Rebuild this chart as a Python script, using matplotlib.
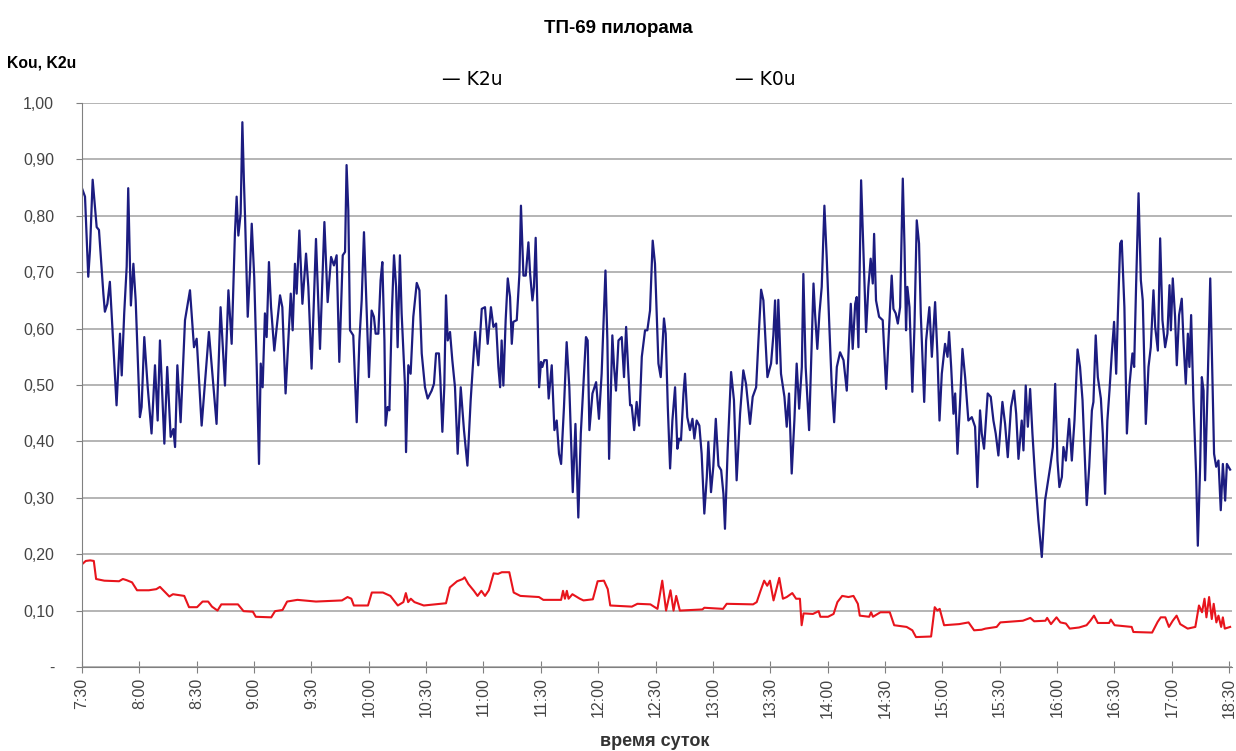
import numpy as np
import matplotlib
matplotlib.use("Agg")
import matplotlib.pyplot as plt

plt.rcParams['font.family'] = ['Liberation Sans', 'DejaVu Sans']

# позиции по оси времени (индекс отсчёта, метка каждые 30 отсчётов)
time_labels = ["7:30", "8:00", "8:30", "9:00", "9:30", "10:00", "10:30", "11:00",
               "11:30", "12:00", "12:30", "13:00", "13:30", "14:00", "14:30",
               "15:00", "15:30", "16:00", "16:30", "17:00", "18:30"]
y_labels = ["-", "0,10", "0,20", "0,30", "0,40", "0,50", "0,60", "0,70", "0,80", "0,90", "1,00"]

# K2u - синяя линия (экстремумы)
k2u_pos = [0, 1.6, 3.3, 4.2, 5.6, 7.7, 8.9, 11.2, 12.0, 13.3, 14.6, 15.9, 18.1, 19.9, 20.8,
           22.1, 23.4, 24.2, 25.6, 26.9, 28.1, 30.3, 31.2, 32.6, 34.4, 36.4, 38.2, 39.6, 40.8,
           43.1, 44.6, 46.4, 47.8, 48.7, 49.9, 51.6, 53.9, 56.5, 58.6, 60.0, 62.6, 66.4, 70.4,
           72.5, 74.8, 76.6, 78.3, 80.0, 80.9, 81.8, 83.0, 83.9, 84.7, 85.3, 86.7, 87.9, 88.8,
           90.1, 91.4, 92.6, 93.5, 94.5, 95.7, 96.6, 97.8, 98.9, 100.6, 103.6, 104.8, 106.5,
           109.2, 110.2, 111.4, 112.3, 113.7, 115.3, 117.2, 118.4, 120.1, 122.4, 124.5, 126.8,
           128.5, 130.3, 131.8, 133.2, 134.6, 136.4, 137.6, 138.4, 139.3, 140.2, 141.9, 143.7,
           145.1, 146.3, 147.5, 150.1, 151.5, 152.7, 153.6, 155.0, 156.2, 157.1, 158.2, 158.8,
           159.9, 160.8, 162.0, 163.2, 164.3, 165.1, 166.3, 167.2, 168.9, 169.5, 170.7, 171.9,
           173.3, 175.1, 176.5, 177.7, 179.4, 180.8, 182.9, 184.1, 185.2, 186.7, 187.4, 188.5,
           189.5, 190.4, 191.3, 192.5, 193.7, 195.1, 196.5, 198.1, 199.8, 201.6, 203.3, 205.6,
           207.3, 209.1, 210.8, 212.2, 213.9, 215.2, 216.6, 217.8, 218.7, 219.5, 220.4, 221.6,
           222.7, 223.9, 224.8, 225.6, 227.4, 228.8, 229.6, 230.9, 232.1, 233.5, 234.4, 235.6,
           236.4, 237.3, 238.2, 239.1, 240.1, 240.8, 241.8, 243.1, 244.1, 245.7, 247.1, 248.3,
           249.5, 250.6, 252.1, 253.5, 254.9, 256.7, 258.1, 259.6, 260.9, 263.6, 264.5, 265.4,
           267.0, 268.9, 270.4, 271.8, 273.8, 274.8, 275.7, 277.4, 278.3, 279.3, 280.6, 282.3,
           283.5, 284.6, 285.8, 286.7, 287.5, 288.8, 290.1, 291.4, 292.8, 294.5, 295.7, 297.1,
           298.5, 299.7, 301.5, 302.7, 304.4, 305.3, 306.4, 307.6, 308.8, 310.2, 311.4, 312.3,
           313.3, 314.6, 315.4, 316.6, 318.0, 319.3, 320.3, 321.5, 322.9, 324.1, 325.5, 326.8,
           327.6, 329.0, 330.2, 331.5, 332.9, 334.3, 335.5, 336.3, 337.7, 339.5, 341.0, 342.4,
           344.2, 345.9, 347.3, 349.4, 350.8, 352.6, 353.8, 355.2, 356.4, 357.3, 358.5, 360.4,
           361.6, 362.5, 363.4, 364.2, 365.6, 367.4, 368.6, 369.8, 371.2, 372.6, 373.8, 375.1,
           376.5, 377.3, 378.5, 380.3, 381.3, 382.6, 383.4, 384.6, 385.7, 386.9, 388.3, 389.5,
           390.9, 392.1, 393.4, 394.8, 396.5, 398.3, 400.0, 401.2, 402.1, 403.1, 404.4, 405.2,
           406.1, 407.5, 408.7, 410.1, 411.3, 412.5, 413.6, 414.3, 415.3, 416.9, 418.8, 420.6,
           421.8, 423.5, 424.4, 425.6, 426.7, 427.9, 429.3, 430.2, 431.0, 431.7, 432.8, 434.3,
           435.4, 436.6, 437.8, 438.7, 440.5, 441.5, 443.2, 444.5, 446.2, 447.4, 448.5, 449.7,
           451.4, 452.7, 453.5, 454.6, 455.8, 456.7, 457.9, 459.3, 460.5, 461.9, 463.6, 465.4,
           467.1, 468.3, 469.7, 470.6, 471.8, 473.7, 475.3, 476.7, 477.9, 479.3, 481.4, 482.8,
           484.2, 485.9, 487.5, 488.6, 489.8, 491.5, 492.4, 493.6, 494.7, 495.9, 497.1, 498.5,
           500.2, 502.0, 503.7, 506.4, 507.8, 509.0, 510.2, 511.2, 512.5, 513.3, 514.6, 516.3,
           517.7, 519.1, 520.7, 522.0, 523.3, 524.7, 525.5, 526.8, 528.2, 529.0, 530.2, 531.3,
           532.9, 533.9, 535.1, 536.3, 537.4, 538.6, 539.8, 540.9, 541.8, 543.0, 543.8, 545.2,
           546.5, 547.9, 549.4, 550.3, 551.3, 552.6, 553.8, 554.8, 556.4, 557.8, 559.0, 560.4,
           561.3, 562.7, 563.9, 565.1, 566.5, 567.7, 568.8, 569.5, 570.5, 571.7, 572.6, 573.8,
           575.2, 576.1, 577.3, 578.4, 579.2, 580.1, 581.3, 582.7, 583.6, 584.8, 585.7, 586.6,
           587.4, 588.7, 590.1, 590.9, 592.1, 593.2, 594.4, 595.6, 596.7, 597.9, 598.8, 600.5]
k2u_val = [0.849, 0.834, 0.692, 0.739, 0.864, 0.78, 0.775, 0.662, 0.63, 0.644, 0.683, 0.603, 0.464, 0.591, 0.517,
           0.627, 0.71, 0.849, 0.641, 0.715, 0.65, 0.443, 0.461, 0.585, 0.496, 0.414, 0.535, 0.437, 0.579,
           0.396, 0.532, 0.408, 0.422, 0.39, 0.535, 0.434, 0.615, 0.668, 0.567, 0.582, 0.428, 0.594, 0.431,
           0.638, 0.499, 0.668, 0.573, 0.768, 0.834, 0.765, 0.804, 0.966, 0.863, 0.798, 0.621, 0.703, 0.786,
           0.691, 0.532, 0.36, 0.538, 0.496, 0.627, 0.585, 0.718, 0.638, 0.561, 0.659, 0.638, 0.485,
           0.662, 0.597, 0.715, 0.662, 0.774, 0.644, 0.733, 0.674, 0.529, 0.759, 0.564, 0.789,
           0.647, 0.727, 0.712, 0.73, 0.541, 0.73, 0.736, 0.89, 0.81, 0.597, 0.588, 0.434,
           0.579, 0.65, 0.771, 0.514, 0.632, 0.621, 0.591, 0.591, 0.686, 0.718, 0.579, 0.428,
           0.461, 0.455, 0.621, 0.73, 0.674, 0.567, 0.73, 0.627, 0.502, 0.381, 0.535, 0.52,
           0.621, 0.681, 0.668, 0.556, 0.496, 0.476, 0.49, 0.502, 0.556, 0.556, 0.514, 0.417,
           0.496, 0.659, 0.579, 0.594, 0.544, 0.496, 0.378, 0.496, 0.42, 0.357, 0.473, 0.594,
           0.535, 0.635, 0.638, 0.573, 0.638, 0.603, 0.609, 0.532, 0.496, 0.579, 0.499, 0.615,
           0.689, 0.656, 0.573, 0.612, 0.615, 0.697, 0.818, 0.694, 0.694, 0.753, 0.697, 0.65,
           0.674, 0.761, 0.638, 0.496, 0.541, 0.532, 0.544, 0.544, 0.476, 0.535, 0.42, 0.437,
           0.378, 0.36, 0.461, 0.576, 0.496, 0.31, 0.431, 0.265, 0.414, 0.585, 0.579, 0.42,
           0.485, 0.505, 0.44, 0.52, 0.703, 0.579, 0.369, 0.588, 0.532, 0.49, 0.579, 0.585,
           0.514, 0.603, 0.52, 0.464, 0.464, 0.42, 0.47, 0.428, 0.55, 0.597, 0.597, 0.632,
           0.756, 0.715, 0.538, 0.514, 0.618, 0.591, 0.461, 0.352, 0.437, 0.496, 0.387, 0.405,
           0.402, 0.485, 0.52, 0.443, 0.42, 0.44, 0.405, 0.437, 0.428, 0.378, 0.272, 0.337,
           0.399, 0.31, 0.355, 0.44, 0.357, 0.349, 0.307, 0.245, 0.384, 0.523, 0.473, 0.331,
           0.449, 0.526, 0.502, 0.431, 0.479, 0.496, 0.579, 0.669, 0.65, 0.591, 0.514, 0.538,
           0.588, 0.65, 0.538, 0.651, 0.52, 0.479, 0.426, 0.485, 0.343, 0.437, 0.538, 0.458,
           0.532, 0.697, 0.532, 0.42, 0.532, 0.68, 0.627, 0.564, 0.627, 0.674, 0.818, 0.727,
           0.603, 0.502, 0.434, 0.532, 0.558, 0.544, 0.49, 0.579, 0.644, 0.564, 0.644, 0.656,
           0.567, 0.863, 0.739, 0.594, 0.674, 0.724, 0.68, 0.768, 0.65, 0.621, 0.615, 0.493,
           0.579, 0.694, 0.635, 0.627, 0.609, 0.638, 0.866, 0.745, 0.597, 0.674, 0.638, 0.488,
           0.603, 0.792, 0.751, 0.627, 0.47, 0.579, 0.638, 0.55, 0.647, 0.556, 0.437, 0.52,
           0.573, 0.55, 0.594, 0.532, 0.449, 0.485, 0.378, 0.473, 0.564, 0.514, 0.437, 0.443,
           0.426, 0.319, 0.455, 0.414, 0.387, 0.485, 0.479, 0.437, 0.414, 0.375, 0.47, 0.431,
           0.372, 0.461, 0.49, 0.449, 0.369, 0.437, 0.384, 0.499, 0.426, 0.493, 0.414, 0.337,
           0.26, 0.195, 0.295, 0.355, 0.39, 0.502, 0.366, 0.319, 0.337, 0.39, 0.366, 0.44,
           0.366, 0.437, 0.563, 0.532, 0.473, 0.355, 0.287, 0.355, 0.455, 0.47, 0.588, 0.514,
           0.476, 0.414, 0.307, 0.437, 0.49, 0.556, 0.612, 0.52, 0.627, 0.751, 0.756, 0.638,
           0.414, 0.502, 0.556, 0.532, 0.674, 0.84, 0.686, 0.65, 0.431, 0.532, 0.567, 0.668,
           0.603, 0.561, 0.76, 0.615, 0.567, 0.591, 0.677, 0.597, 0.689, 0.621, 0.535, 0.624,
           0.653, 0.579, 0.502, 0.591, 0.532, 0.624, 0.473, 0.343, 0.215, 0.355, 0.514, 0.49,
           0.331, 0.496, 0.689, 0.561, 0.378, 0.355, 0.366, 0.278, 0.36, 0.295, 0.36, 0.35]

# K0u - красная линия
k0u_pos = [0, 2, 4.3, 6.2, 7.4, 11.7, 19.4, 21.4, 23.3, 26.2, 28.8, 35, 38.9, 40.8, 43.7, 45.7,
           47.6, 53.5, 56, 60.2, 63.1, 66, 68, 70.9, 72.9, 81.6, 84.5, 89.4, 90.9, 99, 101,
           104.9, 107.3, 112.7, 122.4, 136, 138.9, 140.9, 142.2, 149.6, 151.6, 157.4, 161.3,
           165.2, 168.1, 169.4, 170.6, 172, 173.9, 178.8, 190.4, 192.4, 196.2, 199.2, 200.1,
           202.1, 205, 206.9, 208.9, 210.8, 212.8, 215.3, 217.6, 219.6, 223.5, 225.8, 229.3,
           239, 241.3, 250.6, 251.6, 252.6, 253.6, 254.5, 256.5, 260.4, 262.3, 267.2, 269.7,
           273, 275, 276.3, 287.6, 290.5, 297.3, 301, 303.5, 305.5, 307.8, 309.4, 310.8,
           312.7, 324.5, 325.5, 335.3, 337.2, 351, 352.9, 354.9, 356.8, 358.4, 359.8, 361.7,
           364.7, 366.6, 368.6, 371.5, 373.5, 375.5, 376.4, 377.4, 382.3, 385.3, 386.2, 390.2,
           393.1, 395.1, 397.6, 400.9, 403.5, 405.8, 406.8, 411.7, 412.7, 413.7, 417.6, 422.5,
           424.8, 431.3, 434.3, 436.2, 444.1, 446, 447.4, 448.6, 450.9, 458.8, 463.7, 466.6,
           470.5, 472.5, 478.4, 480.3, 492.1, 496, 498, 503.9, 504.8, 506.8, 509.7, 511.7,
           514.6, 516.6, 521.5, 525.4, 527.4, 529.3, 531.3, 537.2, 538.1, 540.1, 549, 549.9,
           559.7, 562.6, 564.2, 566.6, 568.5, 570.5, 572.5, 574.4, 578.3, 582.3, 584.2, 585.8,
           587.1, 588.1, 589.5, 590.9, 591.9, 593.3, 594.4, 595.8, 596.7, 597.7, 600.5]
k0u_val = [0.182, 0.188, 0.189, 0.188, 0.156, 0.153, 0.152, 0.156, 0.154, 0.15, 0.136, 0.136, 0.138, 0.142, 0.132, 0.125,
           0.129, 0.126, 0.106, 0.106, 0.116, 0.116, 0.107, 0.1, 0.111, 0.111, 0.099, 0.098, 0.089, 0.088, 0.099,
           0.101, 0.116, 0.119, 0.116, 0.118, 0.124, 0.121, 0.109, 0.109, 0.132, 0.132, 0.126,
           0.109, 0.115, 0.131, 0.115, 0.121, 0.115, 0.109, 0.113, 0.141, 0.152, 0.156, 0.159,
           0.147, 0.135, 0.126, 0.135, 0.126, 0.136, 0.166, 0.165, 0.168, 0.168, 0.132, 0.126,
           0.124, 0.119, 0.119, 0.135, 0.121, 0.135, 0.121, 0.129, 0.121, 0.118, 0.12, 0.152,
           0.153, 0.138, 0.109, 0.107, 0.112, 0.111, 0.103, 0.153, 0.1, 0.136, 0.1, 0.126,
           0.1, 0.102, 0.105, 0.103, 0.112, 0.111, 0.115, 0.135, 0.153, 0.144, 0.153, 0.118,
           0.158, 0.121, 0.124, 0.131, 0.121, 0.121, 0.074, 0.095, 0.094, 0.099, 0.089, 0.089,
           0.094, 0.115, 0.126, 0.124, 0.126, 0.112, 0.091, 0.089, 0.097, 0.089, 0.097, 0.097,
           0.074, 0.071, 0.065, 0.053, 0.054, 0.106, 0.1, 0.103, 0.074, 0.076, 0.079, 0.065,
           0.066, 0.068, 0.071, 0.079, 0.082, 0.087, 0.081, 0.082, 0.087, 0.076, 0.088, 0.079,
           0.077, 0.068, 0.07, 0.074, 0.082, 0.091, 0.078, 0.078, 0.084, 0.074, 0.071, 0.062,
           0.061, 0.08, 0.088, 0.088, 0.071, 0.082, 0.091, 0.076, 0.068, 0.071, 0.109, 0.097,
           0.121, 0.088, 0.124, 0.085, 0.112, 0.079, 0.091, 0.071, 0.088, 0.068, 0.071]

fig = plt.figure(figsize=(12.36, 7.51), dpi=100)
ax = fig.add_axes([0.0663, 0.1119, 0.9305, 0.7509])

ax.plot(k2u_pos, k2u_val, color='#1c1c80', lw=1.6, solid_joinstyle='round')
ax.plot(k0u_pos, k0u_val, color='#e8141c', lw=1.5, solid_joinstyle='round')

ax.set_xlim(0, 601.5)
ax.set_ylim(0, 1.0)
ax.set_xticks(np.arange(len(time_labels)) * 30)
ax.set_xticklabels(time_labels, rotation=90, fontsize=11.5, color='#444444')
ax.set_yticks(np.arange(len(y_labels)) * 0.1)
ax.set_yticklabels(y_labels, fontsize=11.5, color='#444444')
ax.yaxis.grid(True, color='#a8a8a8', lw=1.2)
ax.set_axisbelow(True)
for s in ['top', 'right']:
    ax.spines[s].set_visible(False)
for s in ['left', 'bottom']:
    ax.spines[s].set_color('#808080')
ax.tick_params(axis='x', direction='inout', length=9, color='#808080', pad=3)
ax.tick_params(axis='y', direction='out', length=4, color='#808080', pad=16)

fig.text(0.5, 0.962, 'ТП-69 пилорама', ha='center', va='center', fontsize=13.5, fontweight='bold')
fig.text(0.006, 0.916, 'Kou, K2u', ha='left', va='center', fontsize=11.3, fontweight='bold')
fig.text(0.358, 0.894, '— K2u', ha='left', va='center', fontsize=13.5, family=['DejaVu Sans'])
fig.text(0.595, 0.894, '— K0u', ha='left', va='center', fontsize=13.5, family=['DejaVu Sans'])
fig.text(0.53, 0.012, 'время суток', ha='center', va='center', fontsize=13, fontweight='bold',
         color='#333333')

fig.savefig('out.png', dpi=100)
